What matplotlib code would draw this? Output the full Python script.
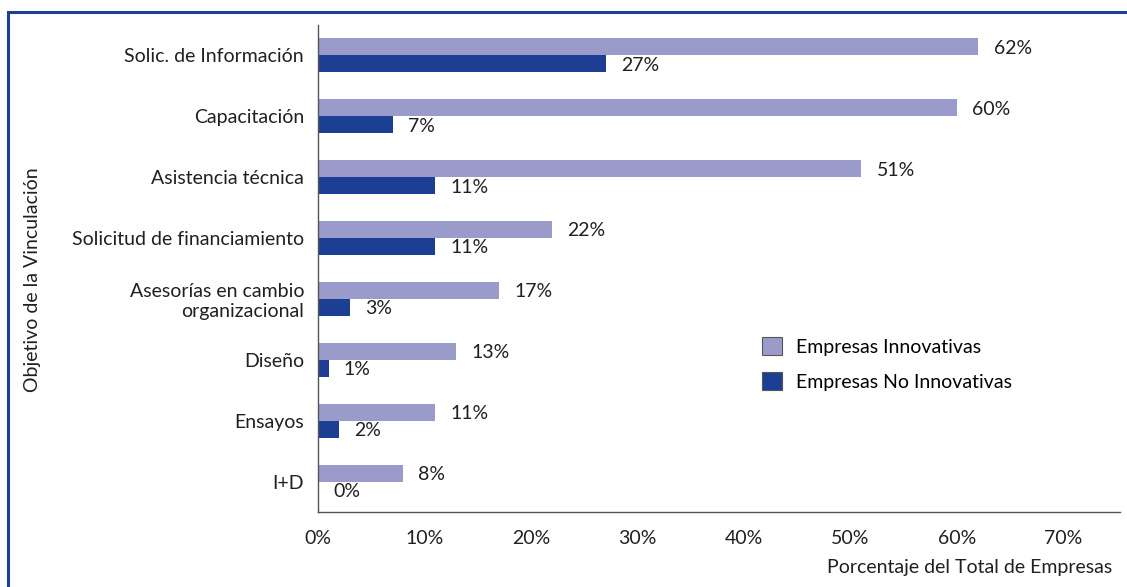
import matplotlib.pyplot as plt
from matplotlib.patches import Rectangle
import numpy as np

plt.rcParams['font.family'] = ['Lato', 'DejaVu Sans']

categorias = ['Solic. de Información', 'Capacitación', 'Asistencia técnica',
              'Solicitud de financiamiento', 'Asesorías en cambio\norganizacional',
              'Diseño', 'Ensayos', 'I+D']
innovativas = [62, 60, 51, 22, 17, 13, 11, 8]
no_innovativas = [27, 7, 11, 11, 3, 1, 2, 0]
ticks_x = [0, 10, 20, 30, 40, 50, 60, 70]

c_claro = '#9b9bcb'
c_oscuro = '#1c3f94'
c_texto = '#231f20'
fs = 14

fig = plt.figure(figsize=(11.27, 5.87), dpi=100)
ax = fig.add_axes([318 / 1127, 1 - 512 / 587, (1120 - 318) / 1127, (512 - 25) / 587])

# marco azul de la figura (sin lado derecho ni inferior visibles)
fig.patches.append(Rectangle((8 / 1127, -0.1), 1.2, 1 - 12 / 587 + 0.1,
                             transform=fig.transFigure, fill=False,
                             edgecolor='#1e3f99', linewidth=2.2))

y = np.arange(len(categorias))
h = 0.28
b1 = ax.barh(y - h / 2, innovativas, height=h, color=c_claro, label='Empresas Innovativas')
b2 = ax.barh(y + h / 2, no_innovativas, height=h, color=c_oscuro, label='Empresas No Innovativas')

for barras, vals in [(b1, innovativas), (b2, no_innovativas)]:
    for b, v in zip(barras, vals):
        ax.annotate(f'{v}%', (b.get_width(), b.get_y() + b.get_height() / 2),
                    xytext=(11, -1), textcoords='offset points',
                    ha='left', va='center', fontsize=fs, color=c_texto)

ax.set_ylim(len(categorias) - 0.5, -0.5)
ax.set_xlim(0, 75.3)
ax.set_yticks(y)
ax.set_yticklabels(categorias, fontsize=fs, color=c_texto, multialignment='right')
ax.set_xticks(ticks_x)
ax.set_xticklabels([f'{t}%' for t in ticks_x], fontsize=fs, color=c_texto)
ax.tick_params(axis='both', length=0)
ax.tick_params(axis='y', pad=10)
ax.tick_params(axis='x', pad=13)

for s in ['top', 'right']:
    ax.spines[s].set_visible(False)
for s in ['left', 'bottom']:
    ax.spines[s].set_color('#555555')
    ax.spines[s].set_linewidth(1.0)

fig.text(33 / 1127, 1 - 280 / 587, 'Objetivo de la Vinculación', rotation=90,
         ha='center', va='center', fontsize=fs, color=c_texto)
fig.text(1112 / 1127, 1 - 567 / 587, 'Porcentaje del Total de Empresas',
         ha='right', va='center', fontsize=fs, color=c_texto)

leg = ax.legend(loc='upper left', bbox_to_anchor=(762 / 1127, 1 - 337 / 587),
                bbox_transform=fig.transFigure, frameon=False,
                fontsize=fs, handlelength=1.05, handleheight=1.05, labelspacing=0.85,
                handletextpad=0.7, borderpad=0, borderaxespad=0)
for p in leg.get_patches():
    p.set_edgecolor('#555555')
    p.set_linewidth(0.8)

fig.savefig('out.png', dpi=100)
